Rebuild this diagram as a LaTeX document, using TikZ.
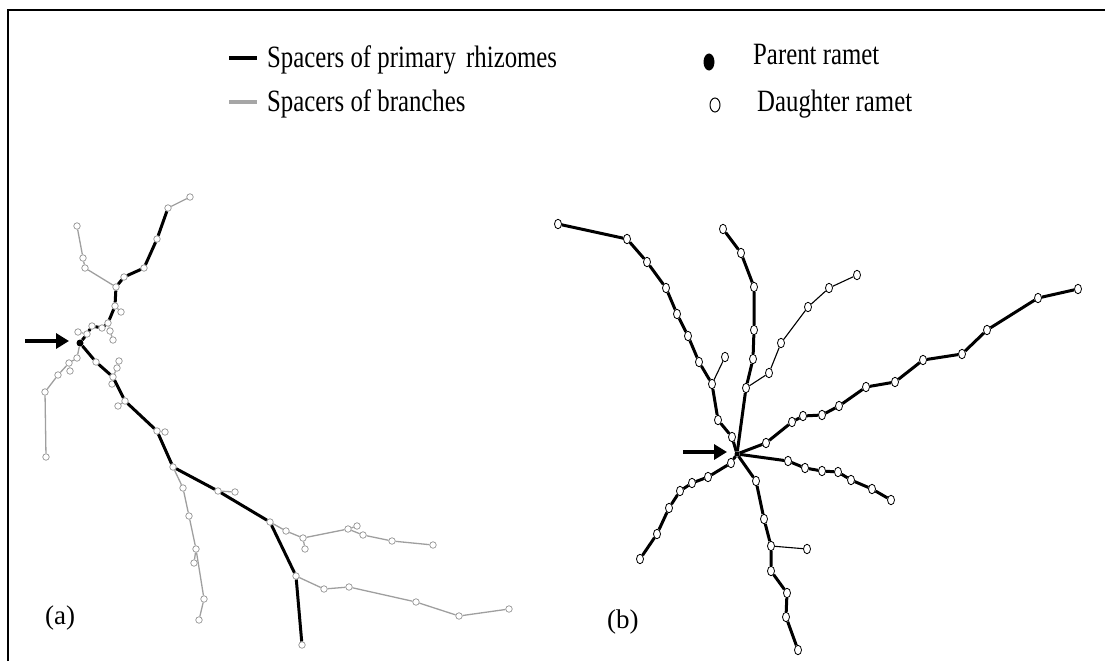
\documentclass[tikz,border=0pt]{standalone}
\usepackage{fontspec}
\setmainfont{Liberation Serif}
\usetikzlibrary{shapes.geometric,arrows.meta}
\newcommand{\lgtext}[1]{\scalebox{0.8}[1]{#1}}
\begin{document}
\begin{tikzpicture}[x=1pt,y=-1pt,
 an/.style={circle,draw=gray!85,fill=white,line width=0.7pt,inner sep=0pt,minimum size=6.5pt},
 ap/.style={circle,fill=black,inner sep=0pt,minimum size=7pt},
 bn/.style={ellipse,draw=black,fill=white,line width=0.8pt,inner sep=0pt,minimum width=7pt,minimum height=9.5pt},
 bp/.style={circle,fill=black,inner sep=0pt,minimum size=5pt},
 prim/.style={line width=3pt,black},
 abr/.style={line width=1.3pt,gray!75},
 bbr/.style={line width=1.1pt,black},
 lbl/.style={font=\fontsize{31}{36}\selectfont,anchor=base west,inner sep=0pt},
 plbl/.style={font=\fontsize{27}{32}\selectfont,anchor=base west,inner sep=0pt},
 bigarrow/.style={line width=4pt,-{Triangle[length=13pt,width=15pt]}},
 frame/.style={line width=2pt,black}
 ]
\useasboundingbox (0,0) rectangle (1105,661);
% frame
\coordinate (fa) at (8,661);
\coordinate (fb) at (8,10);
\coordinate (fc) at (1105,10);
\draw[frame] (fa) -- (fb) -- (fc);

% legend
\coordinate (l1a) at (229,58); \coordinate (l1b) at (257,58);
\coordinate (l2a) at (229,102); \coordinate (l2b) at (257,102);
\draw[line width=3.5pt,black] (l1a) -- (l1b);
\draw[line width=3.5pt,gray!70] (l2a) -- (l2b);
\node[lbl] (t1) at (267,67) {\lgtext{Spacers of primary\, rhizomes}};
\node[lbl] (t2) at (267,111) {\lgtext{Spacers of branches}};
\node[ellipse,fill=black,inner sep=0pt,minimum width=11pt,minimum height=17pt] (ld1) at (709,62) {};
\node[ellipse,draw=black,line width=1pt,inner sep=0pt,minimum width=10pt,minimum height=14pt] (ld2) at (715,105) {};
\node[lbl] (t3) at (753,65) {\lgtext{Parent ramet}};
\node[lbl] (t4) at (757,111) {\lgtext{Daughter ramet}};

% ---------- panel (a) ----------
\foreach \n/\x/\y in {A1/190/197,A2/168/208,A3/157/239,A4/144/268,A5/124/277,A6/116/287,
 G1/77/226,G2/83/258,G3/85/268,A7/115/306,S7/121/312,A8/108/323,H1/110/331,H2/113/340,
 A9/102/328,A10/92/326,A11/87/334,S11/78/332,
 L1/77/358,L2/69/363,L2s/70/371,L3/58/375,L4/45/392,L5/46/457,
 B1/96/362,B2/113/377,B2a/117/368,B2b/119/361,B2c/112/384,
 B3/125/401,S3/118/406,B4/157/431,S4/165/432,B5/173/467,
 C1/183/488,C2/189/516,C3/196/549,C3s/194/563,C4/204/599,C5/199/620,
 B6/218/491,S6/235/492,B7/270/522,
 D1/286/531,D2/303/538,D2s/305/549,D3/348/529,D3s/357/526,D4/363/535,D5/392/541,D6/433/545,
 B8/296/576,B9/302/645,
 E1/324/589,E2/349/587,E3/416/602,E4/459/616,E5/509/609}
 {\node[an] (\n) at (\x,\y) {};}
\node[ap] (P) at (80,343) {};

\draw[prim] (A2) -- (A3) -- (A4) -- (A5) -- (A6) -- (A7) -- (A8) -- (A9) -- (A10) -- (A11) -- (P);
\draw[prim] (P) -- (B1) -- (B2) -- (B3) -- (B4) -- (B5) -- (B6) -- (B7) -- (B8) -- (B9);
\draw[abr] (A1) -- (A2);
\draw[abr] (G1) -- (G2) -- (G3) -- (A6);
\draw[abr] (A7) -- (S7);
\draw[abr] (A8) -- (H1) -- (H2);
\draw[abr] (A11) -- (S11);
\draw[abr] (P) -- (L1) -- (L2) -- (L3) -- (L4) -- (L5);
\draw[abr] (L2) -- (L2s);
\draw[abr] (B2) -- (B2a) -- (B2b);
\draw[abr] (B2) -- (B2c);
\draw[abr] (B3) -- (S3);
\draw[abr] (B4) -- (S4);
\draw[abr] (B6) -- (S6);
\draw[abr] (B5) -- (C1) -- (C2) -- (C3) -- (C4) -- (C5);
\draw[abr] (C3) -- (C3s);
\draw[abr] (B7) -- (D1) -- (D2) -- (D3) -- (D4) -- (D5) -- (D6);
\draw[abr] (D2) -- (D2s);
\draw[abr] (D3) -- (D3s);
\draw[abr] (B8) -- (E1) -- (E2) -- (E3) -- (E4) -- (E5);

\coordinate (aa1) at (25,341); \coordinate (aa2) at (69,341);
\draw[bigarrow] (aa1) -- (aa2);
\node[plbl] (la) at (45,624) {(a)};

% ---------- panel (b) ----------
\foreach \n/\x/\y in {N1/732/437,N2/718/420,N3/712/384,N3s/725/357,N4/699/362,N5/688/336,N6/677/314,
 N7/666/288,N8/647/262,N9/627/239,N10/558/224,
 M1/746/388,M2/753/359,M3/754/330,M4/754/287,M5/741/253,M6/723/229,
 K1/769/373,K2/781/343,K3/808/307,K4/829/288,K5/857/275,
 R1/766/443,R2/792/422,R3/803/416,R4/822/415,R5/839/406,R6/866/387,R7/895/382,R8/923/360,
 R9/962/354,R10/987/330,R11/1038/298,R12/1078/289,
 T1/788/461,T2/805/468,T3/822/471,T4/838/472,T5/851/480,T6/872/489,T7/891/500,
 W1/731/463,W2/708/477,W3/692/483,W4/680/491,W5/669/508,W6/657/534,W7/640/559,
 U1/756/481,U2/764/519,U3/771/546,U3s/807/549,U4/771/571,U5/787/593,U6/786/617,U7/798/650}
 {\node[bn] (\n) at (\x,\y) {};}
\node[bp] (Q) at (737,454) {};

\draw[prim] (Q) -- (N1) -- (N2) -- (N3) -- (N4) -- (N5) -- (N6) -- (N7) -- (N8) -- (N9) -- (N10);
\draw[bbr] (N3) -- (N3s);
\draw[prim] (Q) -- (M1) -- (M2) -- (M3) -- (M4) -- (M5) -- (M6);
\draw[bbr] (M1) -- (K1) -- (K2) -- (K3) -- (K4) -- (K5);
\draw[prim] (Q) -- (R1) -- (R2) -- (R3) -- (R4) -- (R5) -- (R6) -- (R7) -- (R8) -- (R9) -- (R10) -- (R11) -- (R12);
\draw[prim] (Q) -- (T1) -- (T2) -- (T3) -- (T4) -- (T5) -- (T6) -- (T7);
\draw[prim] (Q) -- (W1) -- (W2) -- (W3) -- (W4) -- (W5) -- (W6) -- (W7);
\draw[prim] (Q) -- (U1) -- (U2) -- (U3) -- (U4) -- (U5) -- (U6) -- (U7);
\draw[bbr] (U3) -- (U3s);

\coordinate (ba1) at (683,452); \coordinate (ba2) at (727,452);
\draw[bigarrow] (ba1) -- (ba2);
\node[plbl] (lb) at (607,628) {(b)};
\end{tikzpicture}
\end{document}
